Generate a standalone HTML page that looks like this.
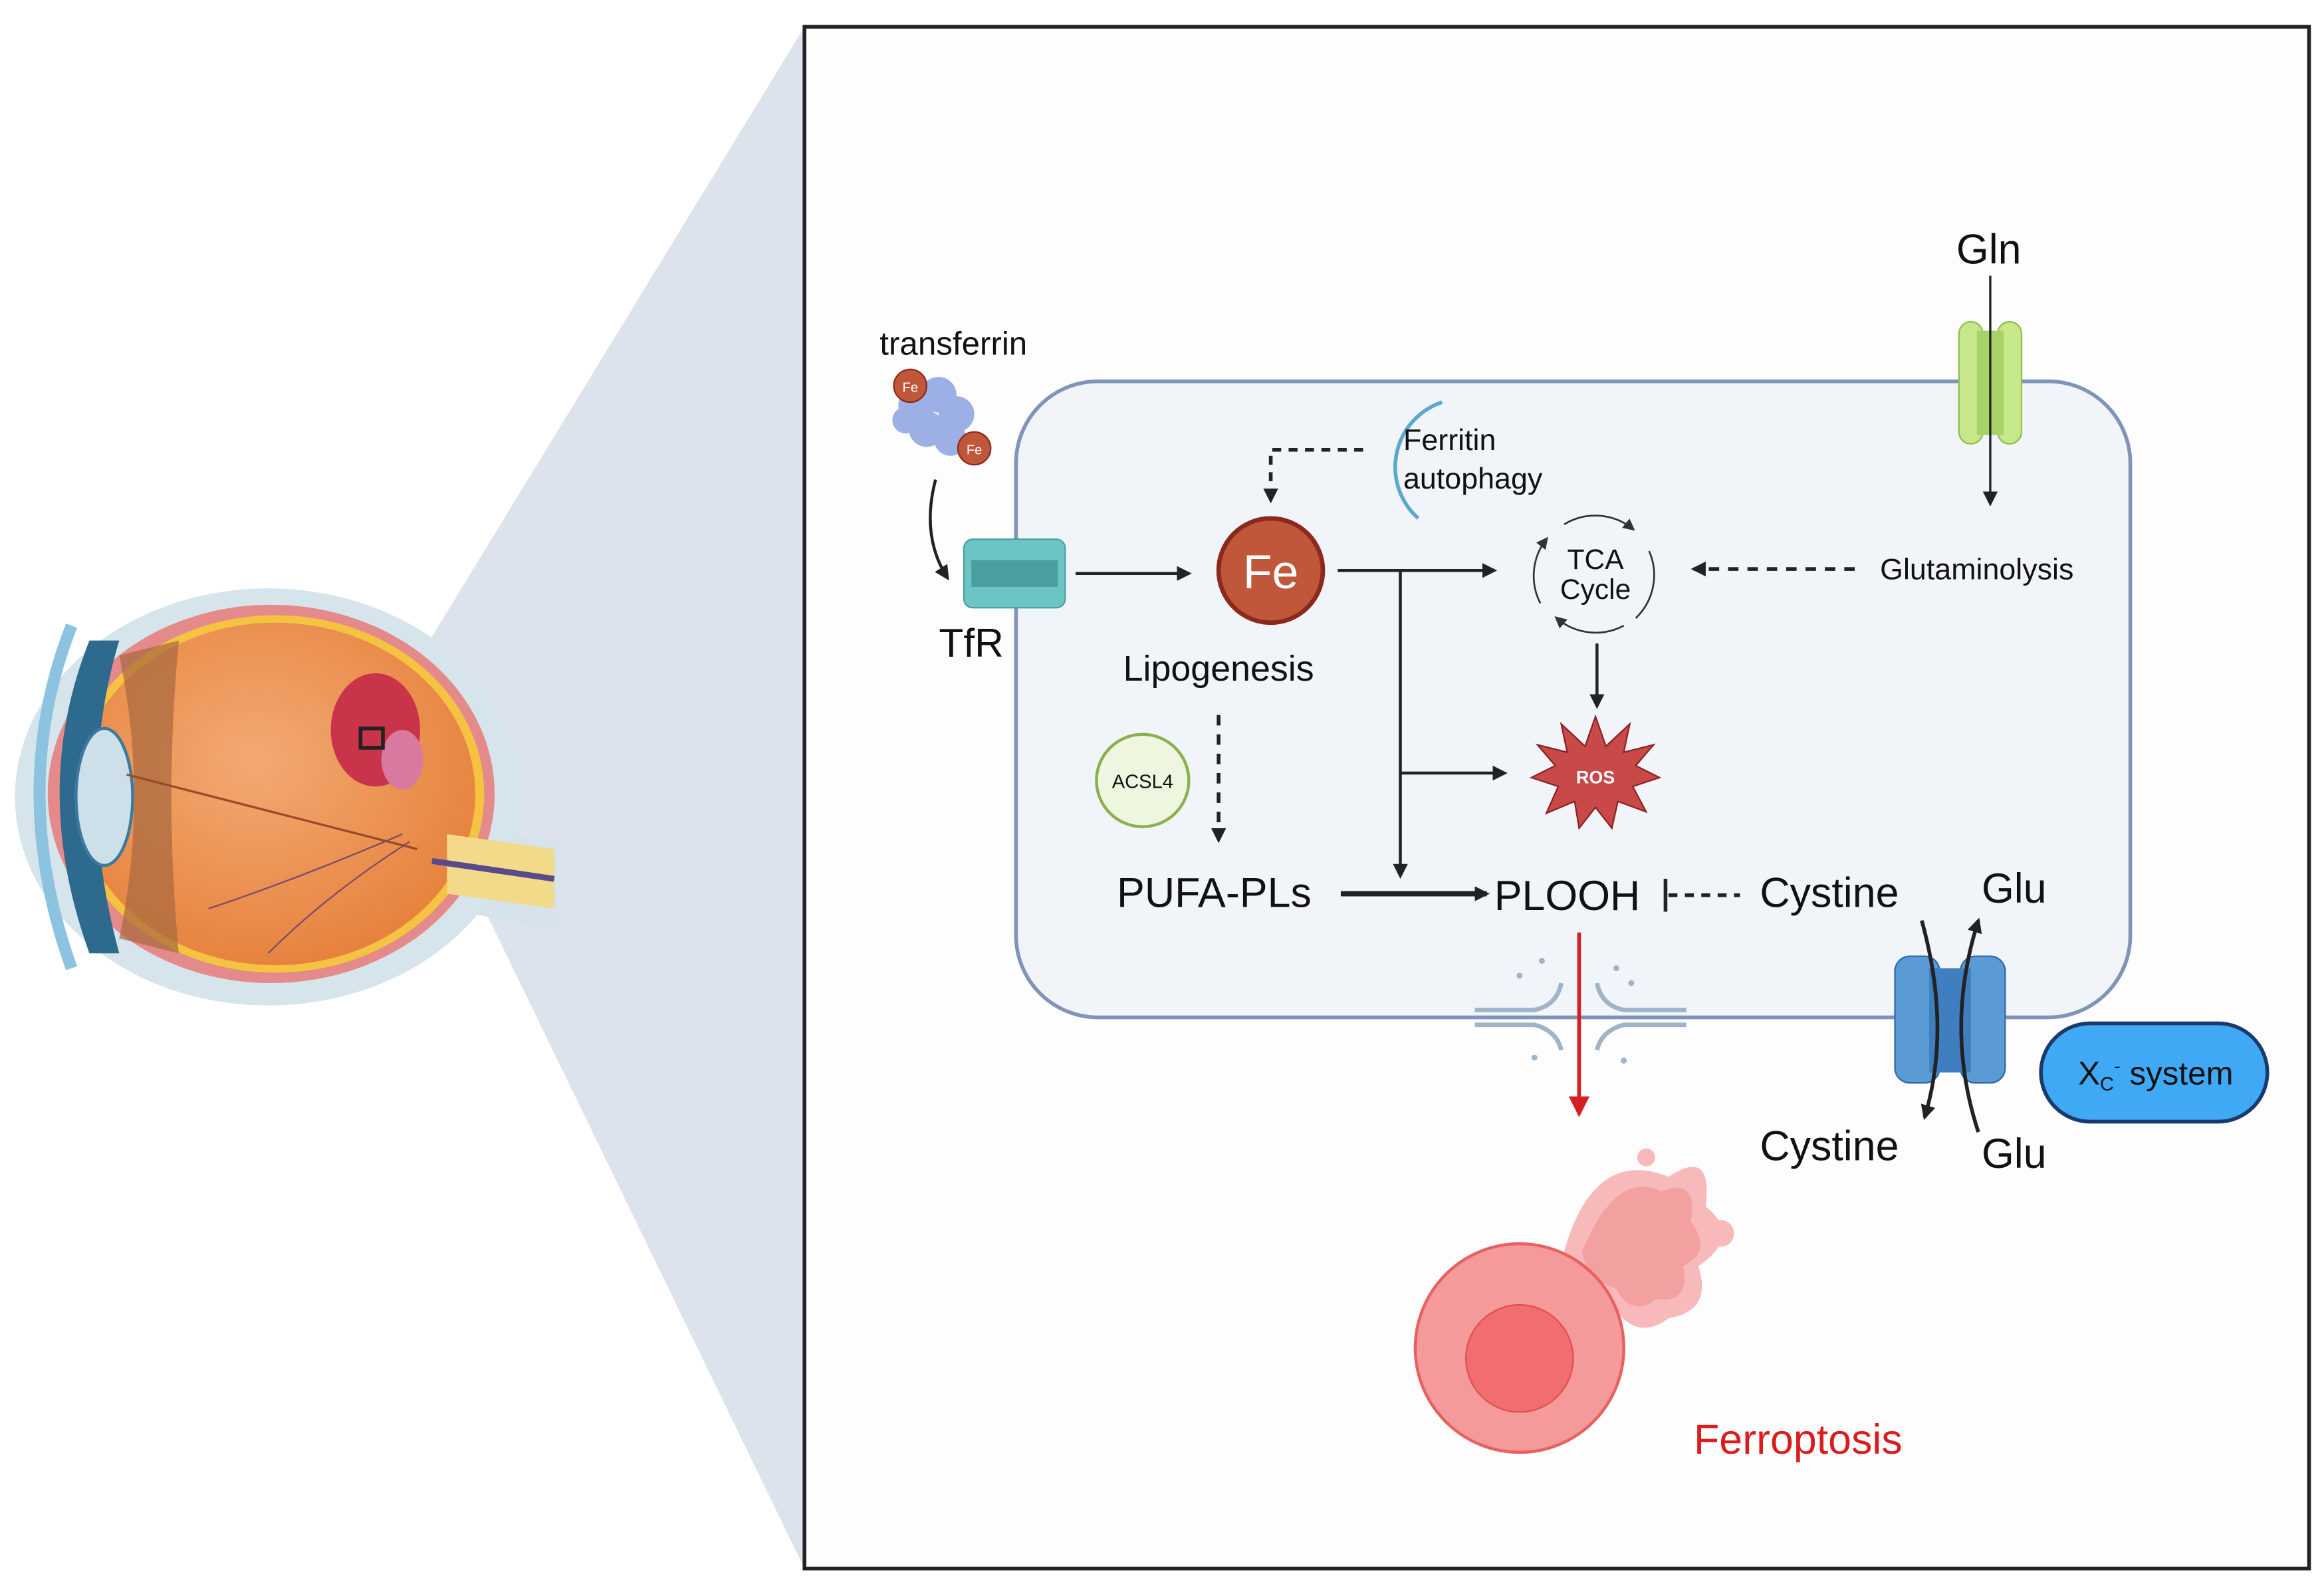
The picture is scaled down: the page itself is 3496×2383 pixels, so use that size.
<!DOCTYPE html>
<html><head><meta charset="utf-8"><style>
html,body{margin:0;padding:0;background:#fff;}
svg{display:block;}
text{font-family:"Liberation Sans",sans-serif;}
</style></head><body>
<svg width="3496" height="2383" viewBox="0 0 1560 1063.4" xmlns="http://www.w3.org/2000/svg">
<defs>
<marker id="ah" markerWidth="10" markerHeight="10" refX="8" refY="5" orient="auto" markerUnits="userSpaceOnUse"><path d="M0,0 L10,5 L0,10 z" fill="#222"/></marker>
<marker id="ahr" markerWidth="14" markerHeight="14" refX="12" refY="7" orient="auto" markerUnits="userSpaceOnUse"><path d="M0,0 L14,7 L0,14 z" fill="#d42020"/></marker>
<marker id="ahs" markerWidth="8" markerHeight="8" refX="6" refY="4" orient="auto" markerUnits="userSpaceOnUse"><path d="M0,0 L8,4 L0,8 z" fill="#333"/></marker>
<radialGradient id="og" cx="0.45" cy="0.4" r="0.7"><stop offset="0" stop-color="#f2aa72"/><stop offset="1" stop-color="#e57c36"/></radialGradient>
</defs>
<rect width="1560" height="1063.4" fill="#fff"/>
<polygon points="540,18 540,1053 320,600 270,460" fill="#dce3ec"/>
<path d="M300,555 L375,565 L375,625 L300,610 Z" fill="#d6e3ea"/>
<ellipse cx="180" cy="535" rx="170" ry="140" fill="#d6e4ec"/>
<ellipse cx="182" cy="533" rx="150" ry="127" fill="#e58a8a"/>
<ellipse cx="185" cy="533" rx="140" ry="120" fill="#f5c342"/>
<ellipse cx="185" cy="533" rx="134" ry="115" fill="url(#og)"/>
<path d="M300,560 L372,570 L372,610 L300,600 Z" fill="#f3d98a"/>
<line x1="290" y1="578" x2="372" y2="590" stroke="#5a4a8a" stroke-width="4"/>
<path d="M60,430 Q20,530 60,640 L80,640 Q50,530 80,430 Z" fill="#2d6a8e"/>
<path d="M48,420 Q5,530 48,650" stroke="#8cc3e0" stroke-width="8" fill="none"/>
<path d="M80,440 Q100,535 80,630 L120,640 Q110,535 120,430 Z" fill="#a8683f" opacity="0.7"/>
<ellipse cx="70" cy="535" rx="19" ry="46" fill="#cde0ea" stroke="#3a7aa0" stroke-width="2"/>
<line x1="85" y1="520" x2="280" y2="570" stroke="#9a4a2a" stroke-width="1.5"/>
<ellipse cx="252" cy="490" rx="30" ry="38" fill="#c9344a"/>
<ellipse cx="270" cy="510" rx="14" ry="20" fill="#d87aa0"/>
<rect x="242" y="489" width="15" height="13" fill="none" stroke="#222" stroke-width="2.5"/>
<path d="M140,610 Q200,590 270,560" stroke="#7a4a6a" stroke-width="1" fill="none"/>
<path d="M180,640 Q220,600 275,565" stroke="#7a4a6a" stroke-width="1" fill="none"/>
<rect x="540" y="18" width="1010" height="1035" fill="#fdfdfd" stroke="#222" stroke-width="2.5"/>
<rect x="682" y="256" width="748" height="427" rx="55" fill="#f1f5fa" stroke="#8094b8" stroke-width="2.5"/>
<text x="640" y="238" font-size="22" text-anchor="middle" fill="#111">transferrin</text>
<g fill="#9cb0e6">
<circle cx="615" cy="272" r="12"/><circle cx="630" cy="265" r="12"/><circle cx="642" cy="278" r="12"/><circle cx="622" cy="288" r="12"/><circle cx="638" cy="295" r="11"/><circle cx="608" cy="282" r="9"/></g>
<circle cx="611" cy="259" r="11" fill="#c0563a" stroke="#8b2a1c"/><text x="611" y="263" font-size="9" fill="#fff" text-anchor="middle">Fe</text>
<circle cx="654" cy="301" r="11" fill="#c0563a" stroke="#8b2a1c"/><text x="654" y="305" font-size="9" fill="#fff" text-anchor="middle">Fe</text>
<path d="M628,322 Q618,360 636,388" stroke="#222" stroke-width="2" fill="none" marker-end="url(#ah)"/>
<rect x="647" y="362" width="68" height="46" rx="6" fill="#6cc4c4" stroke="#4aa0a0"/>
<rect x="652" y="376" width="58" height="18" fill="#4a9e9e"/>
<text x="652" y="441" font-size="27" text-anchor="middle" fill="#111">TfR</text>
<line x1="722" y1="385" x2="798" y2="385" stroke="#222" stroke-width="2" marker-end="url(#ah)"/>
<circle cx="853" cy="383" r="35" fill="#c0563a" stroke="#8b2a1c" stroke-width="3"/>
<text x="853" y="395" font-size="32" fill="#fff" text-anchor="middle">Fe</text>
<path d="M915,302 L853,302 L853,336" stroke="#222" stroke-width="2.5" stroke-dasharray="6,5" fill="none" marker-end="url(#ah)"/>
<path d="M982,270 A46,46 0 0 0 966,348" stroke="#5aa9cc" stroke-width="2.5" fill="none" transform="translate(-14,0)"/>
<text x="942" y="302" font-size="20" fill="#111">Ferritin</text>
<text x="942" y="328" font-size="20" fill="#111">autophagy</text>
<path d="M898,383 L1003,383" stroke="#222" stroke-width="2" fill="none" marker-end="url(#ah)"/>
<path d="M940,383 L940,588" stroke="#222" stroke-width="2" fill="none" marker-end="url(#ah)"/>
<path d="M940,519 L1010,519" stroke="#222" stroke-width="2" fill="none" marker-end="url(#ah)"/>
<path d="M1050,352 A40,40 0 0 1 1096,355" stroke="#333" stroke-width="1.2" fill="none" marker-end="url(#ahs)"/>
<path d="M1107,370 A40,40 0 0 1 1098,415" stroke="#333" stroke-width="1.2" fill="none"/>
<path d="M1090,420 A40,40 0 0 1 1045,415" stroke="#333" stroke-width="1.2" fill="none" marker-end="url(#ahs)"/>
<path d="M1034,405 A40,40 0 0 1 1038,362" stroke="#333" stroke-width="1.2" fill="none" marker-end="url(#ahs)"/>
<text x="1071" y="382" font-size="19" text-anchor="middle" fill="#111">TCA</text>
<text x="1071" y="402" font-size="19" text-anchor="middle" fill="#111">Cycle</text>
<path d="M1245,382 L1137,382" stroke="#222" stroke-width="2.5" stroke-dasharray="7,6" fill="none" marker-end="url(#ah)"/>
<text x="1262" y="389" font-size="20" fill="#111">Glutaminolysis</text>
<text x="1335" y="177" font-size="28" text-anchor="middle" fill="#111">Gln</text>
<rect x="1315" y="216" width="16" height="82" rx="8" fill="#c7e88a" stroke="#8fbf4a"/>
<rect x="1341" y="216" width="16" height="82" rx="8" fill="#c7e88a" stroke="#8fbf4a"/>
<rect x="1327" y="222" width="18" height="70" fill="#a8d268"/>
<line x1="1336" y1="185" x2="1336" y2="338" stroke="#222" stroke-width="1.5" marker-end="url(#ah)"/>
<line x1="1072" y1="432" x2="1072" y2="474" stroke="#222" stroke-width="2" marker-end="url(#ah)"/>
<polygon points="1071,481 1078,501 1094,486 1090,505 1110,500 1098,514 1114,522 1096,528 1105,545 1086,538 1082,556 1071,542 1060,556 1057,538 1038,546 1046,528 1028,522 1044,514 1032,500 1052,505 1048,486 1064,501" fill="#c94848" stroke="#8b2222"/>
<text x="1071" y="526" font-size="12" font-weight="bold" fill="#fff" text-anchor="middle">ROS</text>
<text x="818" y="457" font-size="24" text-anchor="middle" fill="#111">Lipogenesis</text>
<line x1="818" y1="480" x2="818" y2="564" stroke="#222" stroke-width="2.5" stroke-dasharray="7,6" marker-end="url(#ah)"/>
<circle cx="767" cy="524" r="31" fill="#eef6e0" stroke="#8bb04e" stroke-width="2"/>
<text x="767" y="529" font-size="13" text-anchor="middle" fill="#111">ACSL4</text>
<text x="815" y="609" font-size="28" text-anchor="middle" fill="#111">PUFA-PLs</text>
<line x1="900" y1="600" x2="998" y2="600" stroke="#222" stroke-width="3.5" marker-end="url(#ah)"/>
<text x="1052" y="611" font-size="28" text-anchor="middle" fill="#111">PLOOH</text>
<line x1="1118" y1="590" x2="1118" y2="612" stroke="#222" stroke-width="2.5"/>
<line x1="1120" y1="601" x2="1168" y2="601" stroke="#222" stroke-width="2.5" stroke-dasharray="6,5"/>
<text x="1228" y="609" font-size="28" text-anchor="middle" fill="#111">Cystine</text>
<text x="1352" y="606" font-size="28" text-anchor="middle" fill="#111">Glu</text>
<text x="1228" y="779" font-size="28" text-anchor="middle" fill="#111">Cystine</text>
<text x="1352" y="784" font-size="28" text-anchor="middle" fill="#111">Glu</text>
<rect x="1272" y="642" width="30" height="85" rx="10" fill="#5b9bd5" stroke="#2f6aa8"/>
<rect x="1316" y="642" width="30" height="85" rx="10" fill="#5b9bd5" stroke="#2f6aa8"/>
<rect x="1295" y="650" width="28" height="70" fill="#3f7fc0"/>
<path d="M1290,618 Q1310,690 1292,750" stroke="#222" stroke-width="2.5" fill="none" marker-end="url(#ah)"/>
<path d="M1328,760 Q1305,690 1328,618" stroke="#222" stroke-width="2.5" fill="none" marker-end="url(#ah)"/>
<rect x="1370" y="687" width="152" height="66" rx="33" fill="#3fa9f5" stroke="#1a3a6b" stroke-width="2.5"/>
<text x="1395" y="728" font-size="22" fill="#111">X<tspan font-size="13" dy="4">C</tspan><tspan font-size="13" dy="-12">-</tspan><tspan dy="8"> system</tspan></text>
<g stroke="#9fb4c8" stroke-width="3">
<path d="M990,678 L1030,678 Q1045,675 1048,660" fill="none"/>
<path d="M990,688 L1030,688 Q1045,692 1048,705" fill="none"/>
<path d="M1132,678 L1090,678 Q1075,675 1072,660" fill="none"/>
<path d="M1132,688 L1090,688 Q1075,692 1072,705" fill="none"/>
</g>
<g fill="#9fb4c8"><circle cx="1020" cy="655" r="2"/><circle cx="1035" cy="645" r="2"/><circle cx="1085" cy="650" r="2"/><circle cx="1095" cy="660" r="2"/><circle cx="1030" cy="710" r="2"/><circle cx="1090" cy="712" r="2"/></g>
<line x1="1060" y1="626" x2="1060" y2="748" stroke="#d42020" stroke-width="2.5" marker-end="url(#ahr)"/>
<path d="M1050,840 Q1070,770 1120,790 Q1150,770 1145,810 Q1170,830 1140,850 Q1150,880 1120,885 Q1100,900 1085,880 Q1060,870 1050,840 Z" fill="#f7b9b9"/>
<path d="M1062,840 Q1085,785 1115,800 Q1140,790 1135,820 Q1150,840 1130,850 Q1135,875 1112,872 Q1095,885 1085,865 Q1065,860 1062,840 Z" fill="#f3a0a0"/>
<circle cx="1105" cy="777" r="6" fill="#f7b9b9"/><circle cx="1155" cy="828" r="9" fill="#f7b9b9"/>
<circle cx="1020" cy="905" r="70" fill="#f49a9a" stroke="#e86060" stroke-width="2"/>
<circle cx="1020" cy="912" r="36" fill="#f26d6d" stroke="#e05050"/>
<text x="1207" y="976" font-size="28" text-anchor="middle" fill="#d91c1c">Ferroptosis</text>
</svg>
</body></html>
